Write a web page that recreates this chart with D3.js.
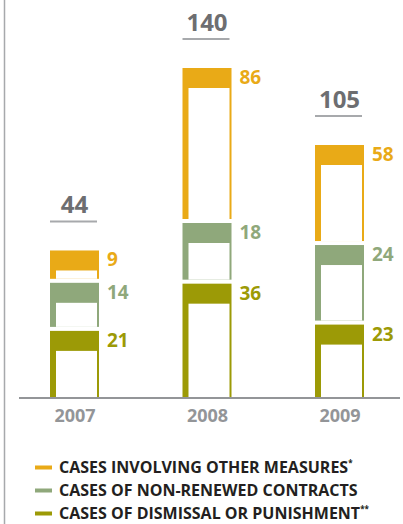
<!DOCTYPE html>
<html>
<head>
<meta charset="utf-8">
<script src="https://cdnjs.cloudflare.com/ajax/libs/d3/7.8.5/d3.min.js"></script>
<style>
  html, body { margin: 0; padding: 0; background: #fff; }
  svg { display: block; font-family: "Open Sans", sans-serif; }
</style>
</head>
<body>
<svg id="chart" width="403" height="524"></svg>
<script>
var years = ['2007', '2008', '2009'];
var dismissal = [21, 36, 23];
var nonRenewed = [14, 18, 24];
var otherMeasures = [9, 86, 58];
var totals = [44, 140, 105];
var seriesNames = ['CASES OF DISMISSAL OR PUNISHMENT', 'CASES OF NON-RENEWED CONTRACTS', 'CASES INVOLVING OTHER MEASURES'];
var seriesNotes = ['**', '', '*'];

var colors = ['#9c9a06', '#8fa87b', '#e9aa17'];

var svg = d3.select('#chart'),
    baseline = 397,
    barWidth = 49,
    gap = 4,
    band = 20;

// bars are not drawn to one linear scale in the original, the top part is squeezed
var h = d3.scaleLinear()
    .domain([0, 54, 105, 140])
    .range([0, 170, 244, 321]);

var x = d3.scalePoint()
    .domain(years)
    .range([74.5, 339.5]);

var series = [dismissal, nonRenewed, otherMeasures];

// build the stacked segments
var segments = [];
years.forEach(function(year, j) {
    var cum = 0;
    series.forEach(function(values, i) {
        var start = cum;
        cum += values[j];
        segments.push({
            year: year,
            i: i,
            value: values[j],
            top: baseline - h(cum) - gap * i,
            bottom: baseline - h(start) - gap * i
        });
    });
});

// left rule
svg.append('line')
    .attr('x1', 4.5).attr('x2', 4.5)
    .attr('y1', 0).attr('y2', 524)
    .attr('stroke', '#a7a9ac')
    .attr('stroke-width', 1.5);

var seg = svg.append('g')
    .attr('class', 'segments')
    .selectAll('g')
    .data(segments)
    .enter().append('g');

seg.append('rect')
    .attr('x', function(d) { return x(d.year) - barWidth / 2; })
    .attr('y', function(d) { return d.top; })
    .attr('width', barWidth)
    .attr('height', function(d) { return d.bottom - d.top; })
    .attr('fill', function(d) { return colors[d.i]; });

seg.append('rect')
    .attr('x', function(d) { return x(d.year) - barWidth / 2 + 6; })
    .attr('y', function(d) { return d.top + band; })
    .attr('width', barWidth - 8)
    .attr('height', function(d) { return Math.max(0, d.bottom - d.top - band); })
    .attr('fill', '#fff');

seg.append('text')
    .attr('x', function(d) { return x(d.year) + barWidth / 2 + 8; })
    .attr('y', function(d) { return d.top + 16; })
    .attr('fill', function(d) { return colors[d.i]; })
    .attr('font-size', 19)
    .attr('font-weight', 700)
    .text(function(d) { return d.value; });

// totals
var tops = years.map(function(year, j) {
    return baseline - h(totals[j]) - gap * 2;
});

svg.append('g')
    .selectAll('text')
    .data(totals)
    .enter().append('text')
    .attr('x', function(d, j) { return x(years[j]); })
    .attr('y', function(d, j) { return tops[j] - 37; })
    .attr('text-anchor', 'middle')
    .attr('fill', '#6d6e71')
    .attr('font-size', 24)
    .attr('font-weight', 700)
    .text(function(d) { return d; });

svg.append('g')
    .selectAll('line')
    .data(totals)
    .enter().append('line')
    .attr('x1', function(d, j) { return x(years[j]) - barWidth / 2; })
    .attr('x2', function(d, j) { return x(years[j]) + barWidth / 2 - 2; })
    .attr('y1', function(d, j) { return tops[j] - 29; })
    .attr('y2', function(d, j) { return tops[j] - 29; })
    .attr('stroke', '#a7a9ac')
    .attr('stroke-width', 2);

// axis
var axis = svg.append('g')
    .attr('transform', 'translate(0,' + 398 + ')')
    .call(d3.axisBottom(x).tickSize(0).tickPadding(24));

axis.select('.domain').remove();
axis.insert('line', ':first-child')
    .attr('x1', 19).attr('x2', 400)
    .attr('stroke', '#939598')
    .attr('stroke-width', 2);

axis.selectAll('text')
    .attr('fill', '#939598')
    .attr('font-size', 18)
    .attr('font-weight', 700)
    .attr('font-family', '"Open Sans", sans-serif')
    .attr('dy', 0);

// legend, top to bottom in reverse stack order
var legendOrder = [2, 1, 0];
var legend = svg.append('g')
    .selectAll('g')
    .data(legendOrder)
    .enter().append('g')
    .attr('transform', function(d, k) { return 'translate(0,' + (467.5 + k * 23) + ')'; });

legend.append('rect')
    .attr('x', 35).attr('y', -2)
    .attr('width', 17).attr('height', 4)
    .attr('fill', function(d) { return colors[d]; });

var lt = legend.append('text')
    .attr('x', 59)
    .attr('y', 5.5)
    .attr('fill', '#231f20')
    .attr('font-size', 16)
    .attr('font-weight', 700);

lt.append('tspan').text(function(d) { return seriesNames[d]; });
lt.append('tspan')
    .attr('font-size', 8)
    .attr('dy', -7)
    .text(function(d) { return seriesNotes[d]; });
</script>
</body>
</html>
